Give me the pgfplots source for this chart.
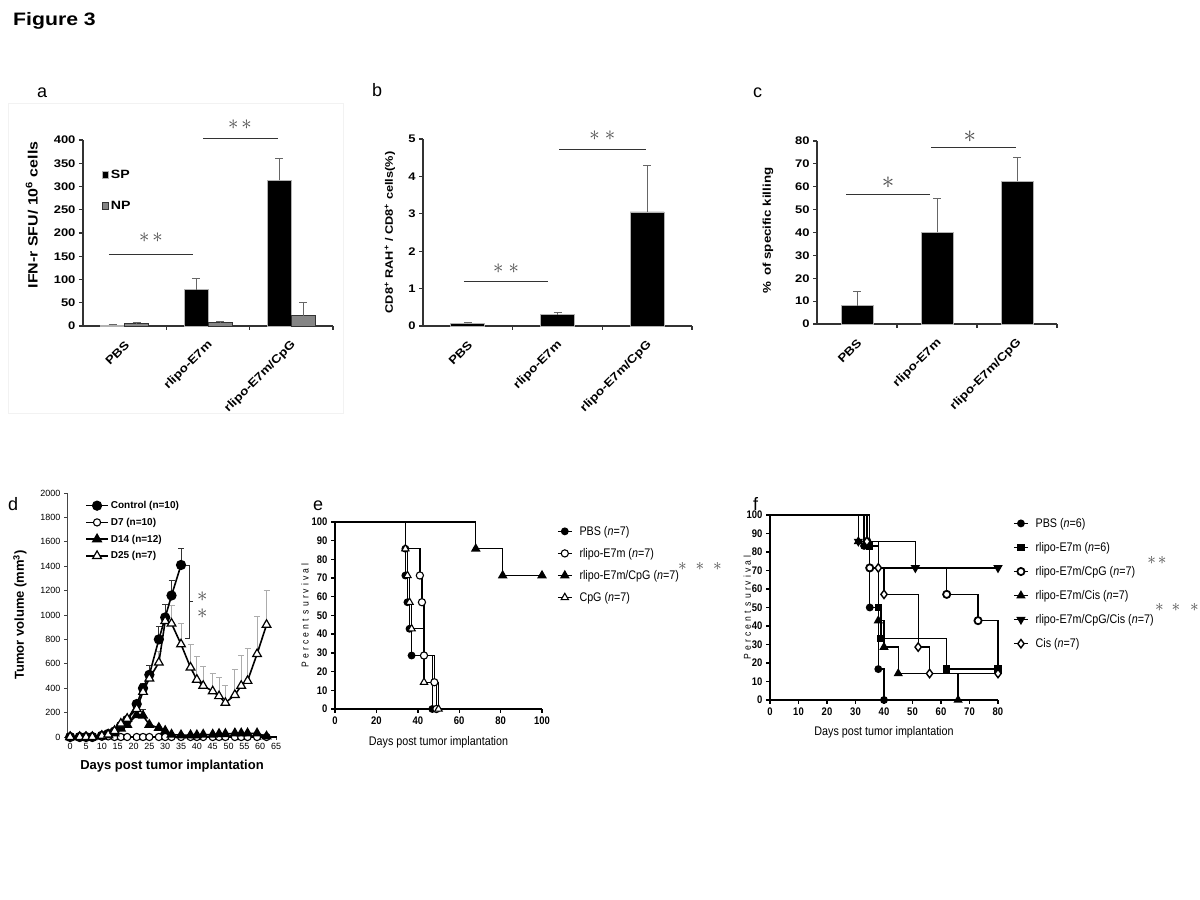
\documentclass[border=0pt]{standalone}
\usepackage{pgfplots}
\pgfplotsset{compat=1.18}
\usetikzlibrary{plotmarks}
\usepackage{fontspec}
\setmainfont{Liberation Sans}
\newfontfamily\widefont[FakeStretch=1.18]{Liberation Sans}
\newfontfamily\narrowfont[FakeStretch=0.86]{Liberation Sans}
\newfontfamily\spacedfont[FakeStretch=0.86,LetterSpace=30]{Liberation Sans}
\newcommand{\fs}[1]{\fontsize{#1}{#1}\selectfont}
\definecolor{axgray}{gray}{0.2}
\definecolor{errgray}{gray}{0.4}
\definecolor{npgray}{gray}{0.52}
\definecolor{stargray}{gray}{0.3}

\pgfplotsset{
  barax/.style={
    scale only axis, clip=false, anchor=south west,
    axis x line=bottom, axis y line=left,
    axis line style={-, line width=1.3pt, color=axgray},
    xmin=-0.5, xmax=2.5, ymin=0,
    xtick={0.5,1.5,2.5}, xticklabels={},
    tick align=outside, major tick length=4pt,
    tick style={line width=1.1pt, color=axgray},
    extra x ticks={0,1,2},
    extra x tick labels={PBS,rlipo-E7m,rlipo-E7m/CpG},
    extra x tick style={major tick length=0pt, tick style={draw=none},
      xticklabel style={rotate=45, anchor=east, font=\widefont\bfseries\fs{11.5}, yshift=-14pt, xshift=-7pt}},
    yticklabel style={font=\widefont\bfseries\fs{11}},
    /pgf/number format/assume math mode=true,
    ylabel style={anchor=center},
    ybar,
  },
  errb/.style={error bars/.cd, y dir=plus, y explicit,
    error bar style={line width=1pt, color=errgray},
    error mark options={rotate=90, line width=1pt, color=errgray, mark size=4pt}},
  survax/.style={scale only axis, clip=false, anchor=south west,
    axis x line=bottom, axis y line=left, axis line style={-, line width=1.8pt, black},
    tick align=outside, major tick length=4pt, tick style={line width=1.4pt, black},
    ticklabel style={font=\narrowfont\bfseries\fs{11}},
    /pgf/number format/assume math mode=true,
    xlabel={Days post tumor implantation}, ylabel={Percent survival},
    xlabel style={font=\narrowfont\fs{12.5}, anchor=center},
    ylabel style={font=\spacedfont\fs{10}, anchor=center},
    ymin=0, ymax=100, ytick={0,10,...,100},
    legend style={draw=none, fill=none, anchor=north west, font=\narrowfont\fs{12.5}, row sep=7.5pt, inner sep=0pt},
    legend cell align=left,
    legend image code/.code={\draw[mark repeat=2,mark phase=2,##1] plot coordinates {(0pt,0pt)(7pt,0pt)(14pt,0pt)}; \path (19pt,0pt);},
  },
  sv/.style={const plot, black, line width=1.4pt, forget plot},
}

\begin{document}
\begin{tikzpicture}[x=1pt,y=1pt]
\path[use as bounding box] (0,0) rectangle (1200,900);
\fill[white] (0,0) rectangle (1200,900);
\node[anchor=base west, inner sep=0pt] at (13,874) {\widefont\bfseries\fs{18}Figure 3};
\node[anchor=base west, inner sep=0pt] at (37,802) {\fs{18}a};
\node[anchor=base west, inner sep=0pt] at (372,803) {\fs{18}b};
\node[anchor=base west, inner sep=0pt] at (753,802) {\fs{18}c};
\node[anchor=base west, inner sep=0pt] at (8,389) {\fs{18}d};
\node[anchor=base west, inner sep=0pt] at (313,389) {\fs{18}e};
\node[anchor=base west, inner sep=0pt] at (753,389) {\fs{18}f};
\draw[gray!10, line width=0.8pt] (8,487) rectangle (343,797);

% ---------------- panel a
\begin{axis}[barax, at={(83pt,574pt)}, width=250pt, height=186pt, ymax=400, ytick={0,50,...,400},
  ylabel={IFN-r SFU/ 10\textsuperscript{6} cells},
  ylabel style={at={(axis description cs:-0.205,0.597)}, font=\widefont\bfseries\fs{13.5}},
  legend style={at={(axis cs:-0.27,340)}, anchor=north west, draw=none, fill=none, font=\widefont\bfseries\fs{12}, row sep=17pt, inner sep=0pt},
  legend cell align=left,
  legend image code/.code={\draw[#1,/tikz/.cd,line width=0.6pt] (0pt,-3.5pt) rectangle (6pt,3.5pt);}]
\addplot[fill=black, draw=gray!60, line width=0.8pt, bar width=24pt, bar shift=-12pt, errb]
  coordinates {(0,2) +- (0,2) (1,78) +- (0,25) (2,313) +- (0,48)};
\addlegendentry{SP}
\addplot[fill=npgray, draw=gray!40!black, line width=0.8pt, bar width=24pt, bar shift=12pt, errb]
  coordinates {(0,5) +- (0,2) (1,7) +- (0,2) (2,22) +- (0,28)};
\addlegendentry{NP}
\draw[line width=0.8pt, axgray] (axis cs:-0.19,155) -- (axis cs:0.82,155);
\node[stargray] at (axis cs:0.316,189) {\fs{22}$\ast\hspace{3pt}\ast$};
\draw[line width=0.8pt, axgray] (axis cs:0.94,404) -- (axis cs:1.84,404);
\node[stargray] at (axis cs:1.384,432) {\fs{22}$\ast\hspace{3pt}\ast$};
\end{axis}

% ---------------- panel b
\begin{axis}[barax, at={(423pt,574pt)}, width=269pt, height=187pt, ymax=5, ytick={0,1,...,5},
  ylabel={CD8\textsuperscript{+} RAH\textsuperscript{+} / CD8\textsuperscript{+} cells(\%)},
  ylabel style={at={(axis description cs:-0.123,0.5)}, font=\widefont\bfseries\fs{10.8}}]
\addplot[fill=black, draw=gray!60, line width=0.8pt, bar width=34pt, bar shift=0pt, errb]
  coordinates {(0,0.07) +- (0,0.03) (1,0.3) +- (0,0.07) (2,3.05) +- (0,1.23)};
\draw[line width=0.8pt, axgray] (axis cs:-0.043,1.2) -- (axis cs:0.894,1.2);
\node[stargray] at (axis cs:0.426,1.52) {\fs{22}$\ast\hspace{5pt}\ast$};
\draw[line width=0.8pt, axgray] (axis cs:1.017,4.73) -- (axis cs:1.987,4.73);
\node[stargray] at (axis cs:1.5,5.1) {\fs{22}$\ast\hspace{5pt}\ast$};
\end{axis}

% ---------------- panel c
\begin{axis}[barax, at={(817pt,576pt)}, width=240pt, height=183pt, ymax=80, ytick={0,10,...,80},
  ylabel={\%\hspace{6pt}of specific killing},
  ylabel style={at={(axis description cs:-0.204,0.51)}, font=\widefont\bfseries\fs{11.3}}]
\addplot[fill=black, draw=gray!60, line width=0.8pt, bar width=32pt, bar shift=0pt, errb]
  coordinates {(0,8) +- (0,6) (1,40) +- (0,14.8) (2,62.5) +- (0,10.3)};
\draw[line width=0.8pt, axgray] (axis cs:-0.1375,56.5) -- (axis cs:0.9125,56.5);
\node[stargray] at (axis cs:0.39,61.6) {\fs{26}$\ast$};
\draw[line width=0.8pt, axgray] (axis cs:0.925,77) -- (axis cs:1.99,77);
\node[stargray] at (axis cs:1.41,81.7) {\fs{26}$\ast$};
\end{axis}

% ---------------- panel d
\begin{axis}[scale only axis, clip=false, anchor=south west, at={(67pt,163pt)}, width=210pt, height=244pt,
  xmin=-1, xmax=65.3, ymin=0, ymax=2000, xtick={0,5,...,65}, ytick={0,200,...,2000},
  axis x line=bottom, axis y line=left, axis line style={-},
  x axis line style={line width=1.5pt, black}, y axis line style={line width=1pt, gray!55!black},
  tick align=outside, major tick length=3pt, tick style={line width=0.8pt, gray!50!black},
  ticklabel style={font=\fs{9}}, /pgf/number format/assume math mode=true, /pgf/number format/1000 sep={},
  xlabel={Days post tumor implantation}, ylabel={Tumor volume (mm\textsuperscript{3})},
  label style={font=\bfseries\fs{13}},
  xlabel style={at={(axis description cs:0.5,-0.119)}, anchor=center},
  ylabel style={at={(axis description cs:-0.224,0.5)}, anchor=center},
  legend style={at={(axis description cs:0.086,0.975)}, anchor=north west, draw=none, fill=none, font=\bfseries\fs{10}, row sep=4pt, inner sep=0pt},
  legend cell align=left,
  legend image code/.code={\draw[mark repeat=2,mark phase=2,#1] plot coordinates {(0pt,0pt)(11pt,0pt)(22pt,0pt)};}]
% error bars
\addplot[only marks, mark=none, forget plot, error bars/.cd, y dir=plus, y explicit,
  error bar style={line width=0.8pt, draw=gray!65}, error mark options={rotate=90, line width=0.8pt, draw=gray!65, mark size=3pt}]
  coordinates {(28,610) +- (0,90) (30,950) +- (0,140) (32,930) +- (0,150) (35,760) +- (0,170) (38,570) +- (0,190)
   (40,470) +- (0,190) (42,420) +- (0,155) (45,375) +- (0,150) (47,335) +- (0,155) (49,280) +- (0,145)
   (52,345) +- (0,205) (54,420) +- (0,245) (56,460) +- (0,270) (59,680) +- (0,305) (62,920) +- (0,285)};
\addplot[only marks, mark=none, forget plot, error bars/.cd, y dir=plus, y explicit,
  error bar style={line width=0.8pt, draw=gray!40!black}, error mark options={rotate=90, line width=0.8pt, draw=gray!40!black, mark size=3pt}]
  coordinates {(21,270) +- (0,30) (23,400) +- (0,40) (25,510) +- (0,80) (28,800) +- (0,110) (30,980) +- (0,110) (32,1160) +- (0,120) (35,1410) +- (0,135)
   (21,180) +- (0,40) (23,175) +- (0,55)};
% Control
\addplot[black, line width=1.6pt, mark=*, mark size=4.3pt]
  coordinates {(0,0)(3,0)(5,0)(7,0)(10,10)(12,25)(14,45)(16,90)(18,140)(21,270)(23,400)(25,510)(28,800)(30,980)(32,1160)(35,1410)};
\addlegendentry{Control (n=10)}
% D7
\addplot[black, line width=1.6pt, mark=*, mark size=3.6pt, mark options={fill=white, line width=1.1pt}]
  coordinates {(0,0)(3,0)(5,0)(7,0)(10,5)(12,5)(14,0)(16,0)(18,0)(21,0)(23,0)(25,0)(28,0)(30,0)(32,0)(35,0)(38,0)(40,0)(42,0)(45,0)(47,0)(49,0)(52,0)(54,0)(56,0)(59,0)(62,0)};
\addlegendentry{D7 (n=10)}
% D14
\addplot[black, line width=1.6pt, mark=triangle*, mark size=4.6pt]
  coordinates {(0,0)(3,0)(5,0)(7,0)(10,5)(12,15)(14,30)(16,70)(18,100)(21,180)(23,175)(25,100)(28,75)(30,50)(32,20)(35,15)(38,15)(40,15)(42,20)(45,20)(47,25)(49,25)(52,30)(54,30)(56,30)(59,30)(62,5)};
\addlegendentry{D14 (n=12)}
% D25
\addplot[black, line width=1.6pt, mark=triangle*, mark size=5pt, mark options={fill=white, line width=1.2pt}]
  coordinates {(0,0)(3,0)(5,0)(7,0)(10,10)(12,20)(14,50)(16,110)(18,150)(21,230)(23,370)(25,480)(28,610)(30,950)(32,930)(35,760)(38,570)(40,470)(42,420)(45,375)(47,335)(49,280)(52,345)(54,420)(56,460)(59,680)(62,920)};
\addlegendentry{D25 (n=7)}
\draw[line width=0.8pt, gray!35!black] (axis cs:36.3,1410) -- (axis cs:37.6,1410) -- (axis cs:37.6,805) -- (axis cs:36.3,805);
\draw[line width=0.8pt, gray!35!black] (axis cs:37.6,1110) -- (axis cs:38.8,1110);
\node[stargray] at (axis cs:41.7,1150) {\fs{20}$\ast$};
\node[stargray] at (axis cs:41.7,1010) {\fs{20}$\ast$};
\end{axis}

% ---------------- panel e
\begin{axis}[survax, at={(335pt,191pt)}, width=207pt, height=187pt,
  xmin=0, xmax=100, xtick={0,20,...,100},
  xlabel style={at={(axis description cs:0.5,-0.176)}},
  ylabel style={at={(axis description cs:-0.145,0.5)}},
  legend style={at={(axis description cs:1.072,0.99)}}]
\addplot[sv, mark=*, mark size=3.2pt, mark indices={2,3,4,5,6,7}]
  coordinates {(0,100)(34,85.7)(34,71.4)(35,57.1)(36,42.9)(37,28.6)(47,0)};
\addplot[sv, mark=*, mark size=3.6pt, mark options={fill=white, line width=1.1pt}, mark indices={3,4,5,6,7}]
  coordinates {(0,100)(34,85.7)(41,71.4)(42,57.1)(43,28.6)(48,14.3)(49,0)};
\addplot[sv, mark=triangle*, mark size=4.2pt, mark indices={2,3,4}]
  coordinates {(0,100)(68,85.7)(81,71.4)(100,71.4)};
\addplot[sv, mark=triangle*, mark size=4.2pt, mark options={fill=white, line width=1.1pt}, mark indices={2,3,4,5,6,7}]
  coordinates {(0,100)(34,85.7)(35,71.4)(36,57.1)(37,42.9)(43,14.3)(50,0)};
\addlegendimage{black, line width=1.4pt, mark=*, mark size=3.2pt}
\addlegendentry{PBS (\textit{n}=7)}
\addlegendimage{black, line width=1.4pt, mark=*, mark size=3.6pt, mark options={fill=white, line width=1.1pt}}
\addlegendentry{rlipo-E7m (\textit{n}=7)}
\addlegendimage{black, line width=1.4pt, mark=triangle*, mark size=4.2pt}
\addlegendentry{rlipo-E7m/CpG (\textit{n}=7)}
\addlegendimage{black, line width=1.4pt, mark=triangle*, mark size=4.2pt, mark options={fill=white, line width=1.1pt}}
\addlegendentry{CpG (\textit{n}=7)}
\end{axis}

% ---------------- panel f
\begin{axis}[survax, at={(770pt,200pt)}, width=228pt, height=185pt,
  xmin=0, xmax=80, xtick={0,10,...,80},
  xlabel style={at={(axis description cs:0.5,-0.173)}},
  ylabel style={at={(axis description cs:-0.10,0.5)}},
  legend style={at={(axis description cs:1.066,0.995)}, row sep=9.5pt}]
\addplot[sv, mark=*, mark size=3.2pt, mark indices={2,3,4,5}]
  coordinates {(0,100)(33,83.3)(35,50)(38,16.7)(40,0)};
\addplot[sv, mark=square*, mark size=3pt, mark indices={2,3,4,5,6}]
  coordinates {(0,100)(35,83.3)(38,50)(39,33.3)(62,16.7)(80,16.7)};
\addplot[sv, mark=*, mark size=3.6pt, mark options={fill=white, line width=1.8pt}, mark indices={2,3,4,5}]
  coordinates {(0,100)(34,85.7)(35,71.4)(62,57.1)(73,42.9)(80,14.3)};
\addplot[sv, mark=triangle*, mark size=4pt, mark indices={2,3,4,5,6}]
  coordinates {(0,100)(31,85.7)(38,42.9)(40,28.6)(45,14.3)(66,0)};
\addplot[sv, mark=triangle*, mark size=4pt, mark options={rotate=180}, mark indices={2,3,4}]
  coordinates {(0,100)(31,85.7)(51,71.4)(80,71.4)};
\addplot[sv, mark=diamond*, mark size=4.2pt, mark options={fill=white, line width=1.4pt}, mark indices={2,3,4,5,6,7}]
  coordinates {(0,100)(34,85.7)(38,71.4)(40,57.1)(52,28.6)(56,14.3)(80,14.3)};
\addlegendimage{black, line width=1.4pt, mark=*, mark size=3.2pt}
\addlegendentry{PBS (\textit{n}=6)}
\addlegendimage{black, line width=1.4pt, mark=square*, mark size=3pt}
\addlegendentry{rlipo-E7m (\textit{n}=6)}
\addlegendimage{black, line width=1.4pt, mark=*, mark size=3.6pt, mark options={fill=white, line width=1.8pt}}
\addlegendentry{rlipo-E7m/CpG (\textit{n}=7)}
\addlegendimage{black, line width=1.4pt, mark=triangle*, mark size=4pt}
\addlegendentry{rlipo-E7m/Cis (\textit{n}=7)}
\addlegendimage{black, line width=1.4pt, mark=triangle*, mark size=4pt, mark options={rotate=180}}
\addlegendentry{rlipo-E7m/CpG/Cis (\textit{n}=7)}
\addlegendimage{black, line width=1.4pt, mark=diamond*, mark size=4.2pt, mark options={fill=white, line width=1.4pt}}
\addlegendentry{Cis (\textit{n}=7)}
\end{axis}

% significance stars beside legends
\node[stargray] at (700,334) {\fs{17}$\ast\hspace{5pt}\ast\hspace{5pt}\ast$};
\node[stargray] at (1157,340) {\fs{17}$\ast\hspace{2pt}\ast$};
\node[stargray] at (1177,293) {\fs{17}$\ast\hspace{4pt}\ast\hspace{6pt}\ast$};
\end{tikzpicture}
\end{document}
